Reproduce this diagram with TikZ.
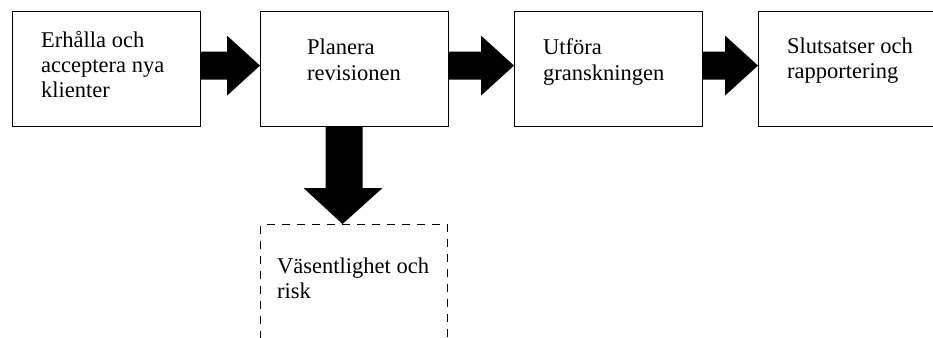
\documentclass[tikz,border=0pt]{standalone}
\usepackage{fontspec}
\setmainfont{Liberation Serif}
\usetikzlibrary{calc}

\begin{document}
\begin{tikzpicture}[x = 1pt, y = -1pt,
    stage/.style = {draw, line width = 1.2pt, anchor = north west, minimum width = 188pt, minimum height = 115pt, inner sep = 0pt},
    stagetext/.style = {anchor = base west, align = left, inner sep = 0pt, font = \fontsize{22.5}{25}\selectfont}]
    \clip (0, 0) rectangle (933, 337);

    % the four stages
    \node[stage] (erhalla) at (12, 11) {};
    \node[stage] (planera) at (260, 11) {};
    \node[stage] (utfora) at (514, 11) {};
    \node[stage, minimum width = 220pt] (slutsats) at (758, 11) {};
    \node[stage, dash pattern = on 8pt off 7pt, line width = 1pt, minimum width = 187pt, minimum height = 150pt] (risk) at (260, 224) {};

    % base = baseline of the last line
    \node[stagetext] (erhallatext) at ($(erhalla.north west) + (29, 86)$) {Erhålla och\\acceptera nya\\klienter};
    \node[stagetext] (planeratext) at ($(planera.north west) + (47, 69)$) {Planera\\revisionen};
    \node[stagetext] (utforatext) at ($(utfora.north west) + (29, 69)$) {Utföra\\granskningen};
    \node[stagetext] (slutsatstext) at ($(slutsats.north west) + (29, 67)$) {Slutsatser och\\rapportering};
    \node[stagetext] (risktext) at ($(risk.north west) + (17, 74)$) {Väsentlighet och\\risk};

    % block arrows
    \foreach \from/\to in {erhalla/planera, utfora/slutsats, planera/utfora}
        \fill ($(\from.east) + (0, -17.5)$) -- ($(\to.west) + (-33, -17.5)$) -- ($(\to.west) + (-33, -33.5)$)
            -- ($(\to.west) + (0, -3.5)$) -- ($(\to.west) + (-33, 26.5)$) -- ($(\to.west) + (-33, 10.5)$)
            -- ($(\from.east) + (0, 10.5)$) -- cycle;
    \fill ($(planera.south) + (-29, 0)$) -- ($(planera.south) + (8, 0)$) -- ($(risk.north) + (8.5, -36)$)
        -- ($(risk.north) + (28.5, -36)$) -- ($(risk.north) + (-11.5, 0)$) -- ($(risk.north) + (-50.5, -36)$)
        -- ($(risk.north) + (-28.5, -36)$) -- cycle;
\end{tikzpicture}
\end{document}
